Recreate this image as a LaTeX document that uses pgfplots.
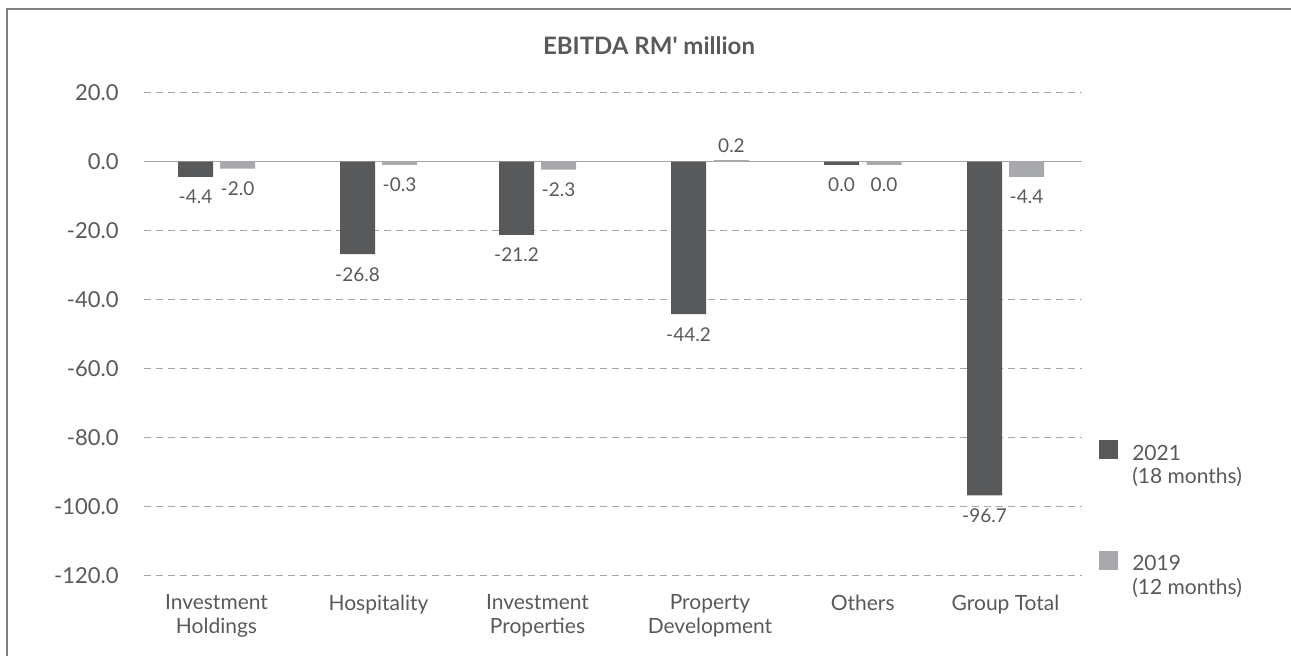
\documentclass[border=0pt]{standalone}
\usepackage{fontspec}
\setmainfont{Lato}[Ligatures=TeXOff]
\usepackage{pgfplots}
\pgfplotsset{compat=1.18}
\definecolor{darkbar}{HTML}{58595B}
\definecolor{lightbar}{HTML}{A7A9AC}
\definecolor{txt}{HTML}{595959}
\definecolor{gridc}{HTML}{A6A6A6}
\definecolor{framec}{HTML}{808080}
\pgfplotsset{sqlegend/.style={legend image code/.code={\fill[##1, draw=none] (0pt,3.25pt) rectangle (9.5pt,12.75pt);}}}
\begin{document}
\begin{tikzpicture}[x=1pt,y=1pt]
\useasboundingbox (0,0) rectangle (645.5,-327.5);
\draw[framec, line width=0.9pt] (3.5,-340) -- (3.5,-4.5) -- (660,-4.5);
\begin{axis}[
  at={(72pt,-287.85pt)}, anchor=south west,
  scale only axis, width=469pt, height=241.5pt,
  xmin=144, xmax=1082, ymin=-120, ymax=20,
  axis line style={draw=none},
  major tick length=0pt,
  ytick={-120,-100,-80,-60,-40,-20,0,20},
  yticklabels={-120.0,-100.0,-80.0,-60.0,-40.0,-20.0,0.0,20.0},
  ymajorgrids,
  grid style={gridc, line width=0.5pt, dash pattern=on 3.5pt off 2.5pt},
  extra y ticks={0}, extra y tick labels={},
  extra y tick style={grid style={solid, gridc, line width=0.6pt}},
  xtick={216.5,378.5,537.5,710,862.75,1005.5},
  xticklabels={Investment\\Holdings, Hospitality, Investment\\Properties, Property\\Development, Others, Group Total},
  xticklabel style={align=center, font=\fontsize{10.5}{11.75}\selectfont, text=txt, anchor=north, yshift=-6pt},
  yticklabel style={font=\fontsize{11}{13}\selectfont, text=txt, anchor=east, inner xsep=0pt, xshift=-12.5pt},
  ybar, bar width=35,
  point meta=explicit symbolic,
  nodes near coords,
  every node near coord/.append style={font=\fontsize{9.5}{11}\selectfont, text=txt},
  title={\textbf{EBITDA RM' million}},
  title style={at={(axis description cs:0.5384,1.054)}, anchor=base, font=\fontsize{12}{14}\selectfont, text=txt},
  legend style={draw=none, fill=none, at={(axis description cs:1.018,0.281)}, anchor=north west, inner sep=0pt,
    font=\fontsize{10.5}{11.75}\selectfont, text=txt, nodes={align=left, inner xsep=0pt}, column sep=7pt, row sep=30pt},
  legend cell align=left,
  clip=false,
]
\addplot[fill=darkbar, draw=none, bar shift=0pt, sqlegend,
  every node near coord/.append style={anchor=north, yshift=-3pt}]
  coordinates {(195.5,-4.4) [-4.4] (357.5,-26.8) [-26.8] (516.5,-21.2) [-21.2] (688.5,-44.2) [-44.2] (841.5,-0.9) [0.0] (984.5,-96.7) [-96.7]};
\addlegendentry{2021\\(18 months)}
\addplot[fill=lightbar, draw=none, bar shift=0pt, sqlegend,
  every node near coord/.append style={anchor=north, yshift=-3pt}]
  coordinates {(237.5,-2.0) [-2.0] (399.5,-0.9) [-0.3] (558.5,-2.3) [-2.3] (884,-0.9) [0.0] (1026.5,-4.4) [-4.4]};
\addlegendentry{2019\\(12 months)}
\addplot[fill=lightbar, draw=none, bar shift=0pt, forget plot,
  every node near coord/.append style={anchor=south}]
  coordinates {(731.5,0.6) [0.2]};
\end{axis}
\end{tikzpicture}
\end{document}
